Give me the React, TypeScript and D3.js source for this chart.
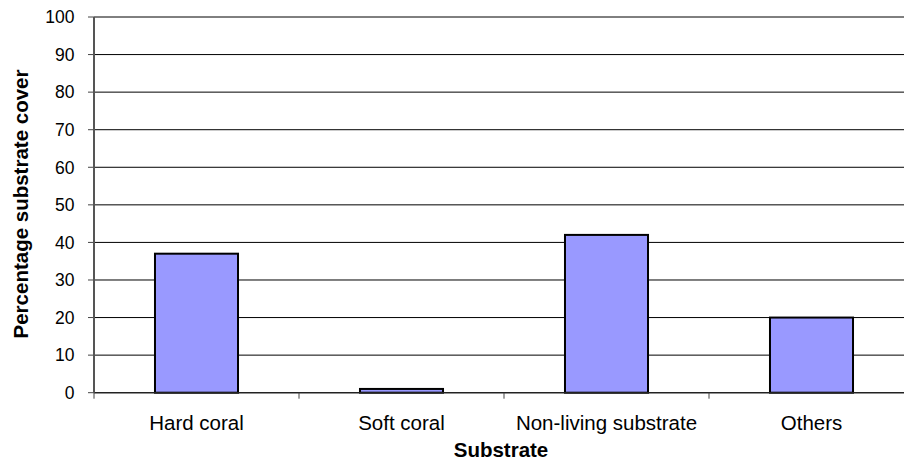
import React from "react";
import * as d3 from "d3";

const categories = ["Hard coral", "Soft coral", "Non-living substrate", "Others"];
const values = [37, 1, 42, 20];
const yTicks = [0, 10, 20, 30, 40, 50, 60, 70, 80, 90, 100];

export default function App() {
  const W = 904, H = 464;
  const left = 94, right = 914, top = 17, bottom = 392.7;
  const x = d3.scaleBand<string>().domain(categories).range([left, right]).paddingInner(0).paddingOuter(0);
  const y = d3.scaleLinear().domain([0, 100]).range([bottom, top]);
  const bw = x.bandwidth() * 0.405;
  const font = "Liberation Sans, Arial, sans-serif";
  const boundaries = categories.map((c) => x(c)!).concat([right]);
  return (
    <svg width={W} height={H} style={{ position: "absolute", left: 0, top: 0, background: "#fff" }}>
      <rect x={0} y={0} width={W} height={H} fill="#fff" />
      {yTicks.map((t) => (
        <g key={t}>
          {t > 0 && <line x1={left} x2={right} y1={y(t)} y2={y(t)} stroke="#000" strokeWidth={1} />}
          <line x1={left - 6} x2={left} y1={y(t)} y2={y(t)} stroke="#444" strokeWidth={1} />
          <text x={left - 19.5} y={y(t)} dy="0.36em" textAnchor="end" fontFamily={font} fontSize={17.5} fill="#000">
            {t}
          </text>
        </g>
      ))}
      {categories.map((c, i) => {
        const cx = x(c)! + x.bandwidth() / 2;
        return (
          <g key={c}>
            <rect
              x={cx - bw / 2}
              y={y(values[i])}
              width={bw}
              height={bottom - y(values[i])}
              fill="#9999FF"
              stroke="#000"
              strokeWidth={2}
            />
            <text x={cx} y={423} dy="0.36em" textAnchor="middle" fontFamily={font} fontSize={20.5} fill="#000">
              {c}
            </text>
          </g>
        );
      })}
      <line x1={left} x2={right} y1={bottom} y2={bottom} stroke="#222" strokeWidth={1.5} />
      {boundaries.map((b, i) => (
        <line key={i} x1={b} x2={b} y1={bottom} y2={bottom + 6} stroke="#444" strokeWidth={1} />
      ))}
      <line x1={left} x2={left} y1={top} y2={bottom} stroke="#555" strokeWidth={2} />
      <text x={501} y={450} dy="0.36em" textAnchor="middle" fontFamily={font} fontSize={20.5} fontWeight="bold" fill="#000">
        Substrate
      </text>
      <text
        transform={`translate(21,204) rotate(-90)`}
        dy="0.36em"
        textAnchor="middle"
        fontFamily={font}
        fontSize={20.5}
        fontWeight="bold"
        fill="#000"
      >
        Percentage substrate cover
      </text>
    </svg>
  );
}
